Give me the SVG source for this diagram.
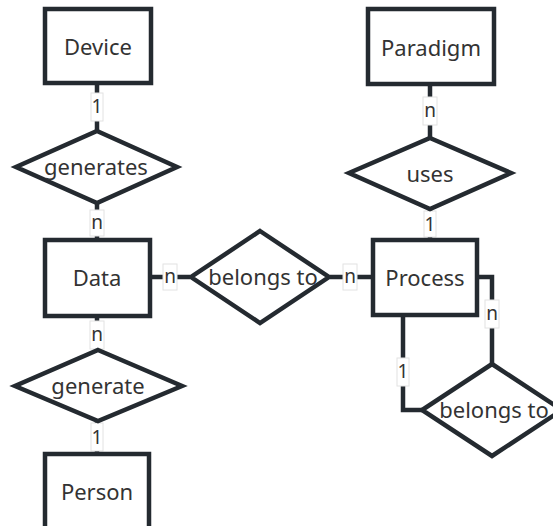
<svg xmlns="http://www.w3.org/2000/svg" width="553" height="526" viewBox="0 0 553 526">
<style>
.ent{fill:#fff;stroke:#242a30;stroke-width:4.5}
.rel{fill:#fff;stroke:#242a30;stroke-width:4.5;stroke-linejoin:miter}
.t{font-family:"Noto Sans","Open Sans",sans-serif;font-size:22px;fill:#333;text-anchor:middle;dominant-baseline:central}
.c{fill:none;stroke:#242a30;stroke-width:4.5}
.lb{fill:#fff;stroke:#e2e2e2;stroke-width:1}
.lt{font-family:"Noto Sans","Open Sans",sans-serif;font-size:19px;fill:#333;text-anchor:middle;dominant-baseline:central}
</style>
<rect width="553" height="526" fill="#fff"/>
<g id="connectors">
<path class="c" d="M97 82V130"/>
<path class="c" d="M97 204V239"/>
<path class="c" d="M150 277H190"/>
<path class="c" d="M330 277H372"/>
<path class="c" d="M430 85V137"/>
<path class="c" d="M430 210V239"/>
<path class="c" d="M97 316V349"/>
<path class="c" d="M97 422V453"/>
<path class="c" d="M477 277H492V363"/>
<path class="c" d="M403 315V410H422"/>
<g id="labels">
<rect class="lb" x="91" y="93" width="12" height="28"/><text class="lt" x="97" y="106">1</text>
<rect class="lb" x="90" y="210" width="14" height="26"/><text class="lt" x="97" y="222">n</text>
<rect class="lb" x="163" y="264" width="14" height="26"/><text class="lt" x="170" y="276">n</text>
<rect class="lb" x="343" y="264" width="14" height="26"/><text class="lt" x="350" y="276">n</text>
<rect class="lb" x="423" y="97" width="14" height="28"/><text class="lt" x="430" y="110">n</text>
<rect class="lb" x="424" y="211" width="12" height="26"/><text class="lt" x="430" y="224">1</text>
<rect class="lb" x="90" y="321" width="14" height="28"/><text class="lt" x="97" y="334">n</text>
<rect class="lb" x="91" y="423" width="12" height="28"/><text class="lt" x="97" y="437">1</text>
<rect class="lb" x="485" y="300" width="14" height="28"/><text class="lt" x="492" y="313">n</text>
<rect class="lb" x="397" y="358" width="12" height="28"/><text class="lt" x="403" y="371">1</text>
</g>
</g>
<g id="device"><rect class="ent" x="45" y="9" width="106" height="74"/><text class="t" x="98" y="46">Device</text></g>
<g id="paradigm"><rect class="ent" x="368" y="9" width="126" height="75"/><text class="t" x="431" y="47">Paradigm</text></g>
<g id="data"><rect class="ent" x="45" y="240" width="105" height="76"/><text class="t" x="97" y="277">Data</text></g>
<g id="process"><rect class="ent" x="373" y="240" width="104" height="75"/><text class="t" x="425" y="277">Process</text></g>
<g id="person"><rect class="ent" x="45" y="454" width="104" height="76"/><text class="t" x="97" y="491">Person</text></g>
<g id="generates"><polygon class="rel" points="97,131 177,167 97,203 16,167"/><text class="t" x="96" y="166">generates</text></g>
<g id="uses"><polygon class="rel" points="430,138 511,173 430,209 349,173"/><text class="t" x="430" y="173">uses</text></g>
<g id="belongs1"><polygon class="rel" points="260,231 329,277 260,323 191,277"/><text class="t" x="263" y="276">belongs to</text></g>
<g id="belongs2"><polygon class="rel" points="492,364 562,410 492,456 422,410"/><text class="t" x="494" y="409">belongs to</text></g>
<g id="generate"><polygon class="rel" points="98,350 182,386 98,421 15,386"/><text class="t" x="98" y="385">generate</text></g>
</svg>
